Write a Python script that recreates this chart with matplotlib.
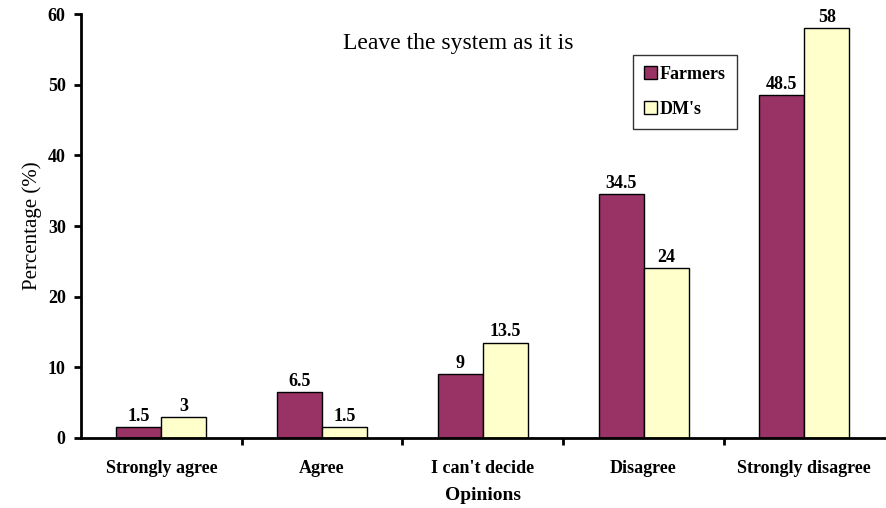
import numpy as np
import matplotlib.pyplot as plt

categories = ['Strongly agree', 'Agree', "I can't decide", 'Disagree', 'Strongly disagree']
farmers = [1.5, 6.5, 9, 34.5, 48.5]
dms = [3, 1.5, 13.5, 24, 58]
farmer_labels = ['1.5', '6.5', '9', '34.5', '48.5']
dm_labels = ['3', '1.5', '13.5', '24', '58']

plt.rcParams['font.family'] = ['Liberation Serif', 'DejaVu Serif']

fig = plt.figure(figsize=(8.86, 5.08), dpi=100)
ax = fig.add_axes([0.0914, 0.1378, 0.907, 0.8346])

x = np.arange(len(categories))
w = 0.28
b1 = ax.bar(x - w / 2, farmers, w, color='#993366', edgecolor='black', linewidth=1, label='Farmers')
b2 = ax.bar(x + w / 2, dms, w, color='#FFFFCC', edgecolor='black', linewidth=1, label="DM's")

for bars, labs in ((b1, farmer_labels), (b2, dm_labels)):
    for r, t in zip(bars, labs):
        ax.text(r.get_x() + r.get_width() / 2, r.get_height() + 0.3, t,
                ha='center', va='bottom', fontsize=13, fontweight='bold')

ax.set_xlim(-0.5, len(categories) - 0.5)
ax.set_ylim(0, 60)
ax.set_yticks(range(0, 61, 10))
ax.set_yticklabels([str(v) for v in range(0, 61, 10)], fontsize=13, fontweight='bold')
ax.set_xticks(x)
ax.set_xticklabels(categories, fontsize=13, fontweight='bold')
ax.tick_params(axis='x', length=0, pad=16)
ax.set_xticks(np.arange(0.5, len(categories) - 0.5, 1), minor=True)
ax.tick_params(axis='x', which='minor', length=5, width=2, direction='out')
ax.tick_params(axis='y', length=5, width=2, direction='out', pad=6)

for s in ('top', 'right'):
    ax.spines[s].set_visible(False)
for s in ('left', 'bottom'):
    ax.spines[s].set_linewidth(2)

ax.set_xlabel('Opinions', fontsize=14, fontweight='bold', labelpad=7)
ax.set_ylabel('Percentage (%)', fontsize=15, labelpad=4)
ax.text(0.47, 0.93, 'Leave the system as it is', transform=ax.transAxes,
        ha='center', va='center', fontsize=17)

leg = ax.legend(loc='upper left', bbox_to_anchor=(0.687, 0.903),
                prop={'weight': 'bold', 'size': 13}, frameon=True, fancybox=False,
                edgecolor='black', handlelength=0.7, handleheight=0.7,
                handletextpad=0.2, labelspacing=1.0, borderpad=0.6, borderaxespad=0)
leg.get_frame().set_linewidth(1)

plt.savefig('out.png', dpi=100)
